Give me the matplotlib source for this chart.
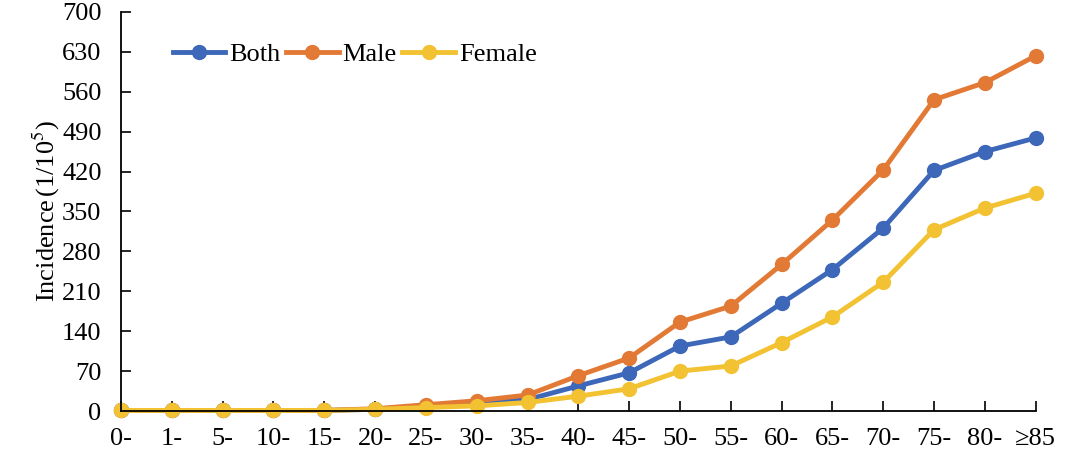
import matplotlib
matplotlib.use("Agg")
import matplotlib.pyplot as plt

# age groups and incidence per 100,000
age_groups = ['0-', '1-', '5-', '10-', '15-', '20-', '25-', '30-', '35-',
              '40-', '45-', '50-', '55-', '60-', '65-', '70-', '75-', '80-', '≥85']
both = [1, 1, 1, 1, 1, 3, 9, 13, 20, 44, 67, 114, 130, 189, 248, 321, 422, 455, 479]
male = [1, 1, 1, 1, 1, 4, 11, 18, 28, 62, 93, 156, 184, 257, 335, 423, 546, 576, 623]
female = [1, 1, 1, 1, 1, 3, 6, 9, 15, 26, 39, 70, 79, 120, 165, 226, 318, 356, 382]
y_ticks = [0, 70, 140, 210, 280, 350, 420, 490, 560, 630, 700]

plt.rcParams['font.family'] = ['Liberation Serif', 'DejaVu Serif']
plt.rcParams['mathtext.fontset'] = 'stix'

fig = plt.figure(figsize=(10.8, 4.58), dpi=100)
ax = fig.add_axes([0.112, 0.1026, 0.847, 0.8714])

x = list(range(len(age_groups)))
series = [('Both', both, '#3d67b8'), ('Male', male, '#e27a36'), ('Female', female, '#f2c232')]
for name, vals, col in series:
    ax.plot(x, vals, color=col, lw=3.5, marker='o', ms=10, label=name, clip_on=False)

ax.set_xlim(0, len(age_groups) - 1)
ax.set_ylim(0, 700)
ax.set_xticks(x)
ax.set_xticklabels(age_groups)
ax.set_yticks(y_ticks)
ax.tick_params(direction='in', length=7, width=1.2, labelsize=19)
ax.tick_params(axis='y', pad=14)
ax.tick_params(axis='x', pad=12)
for s in ['top', 'right']:
    ax.spines[s].set_visible(False)
for s in ['left', 'bottom']:
    ax.spines[s].set_linewidth(1.3)

ax.set_ylabel(r'Incidence$\,$(1/10$^5$)', fontsize=19, labelpad=0)

ax.legend(loc='upper left', bbox_to_anchor=(0.045, 0.95), ncol=3, frameon=False,
          fontsize=19, handlelength=2.0, handletextpad=0.15, columnspacing=0.2,
          borderaxespad=0)

fig.savefig('out.png', dpi=100)
